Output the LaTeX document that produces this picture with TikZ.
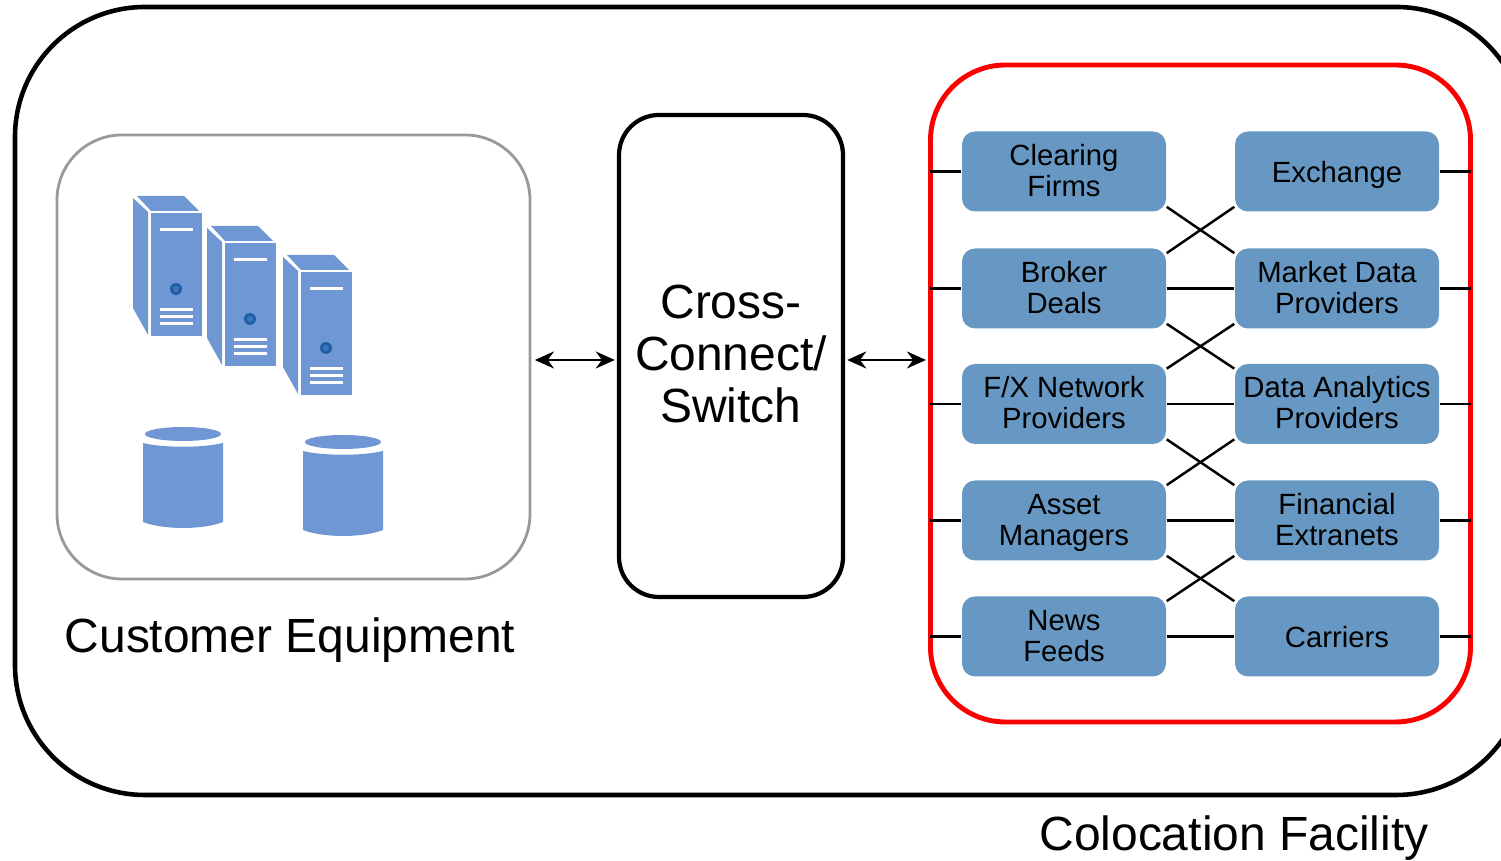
\documentclass[tikz,border=0pt]{standalone}
\usepackage{fontspec}
\setmainfont{Liberation Sans}
\usetikzlibrary{calc, arrows.meta}
\definecolor{unitblue}{HTML}{6F97D3}
\definecolor{nodeblue}{HTML}{6798C3}
\definecolor{discblue}{HTML}{1F5FA8}
\definecolor{redline}{HTML}{FA0000}
\tikzset{
  partybox/.style={rectangle, rounded corners=0.13cm, fill=nodeblue, minimum width=2.04cm, minimum height=0.8cm, inner sep=0pt, align=center, text height=15pt, text depth=1pt, font=\fontsize{8.33}{8.8}\selectfont},
  oneline/.style={text height=7pt},
  bigtext/.style={inner sep=0pt, align=center, font=\fontsize{13.65}{14.8}\selectfont},
  stub/.style={line width=0.7pt, shorten >=0.6pt},
  link/.style={line width=0.7pt},
  duplex/.style={{Stealth[length=1.9mm, width=1.7mm]}-{Stealth[length=1.9mm, width=1.7mm]}, line width=0.7pt},
  serverunit/.pic={
    \fill[unitblue] (0, 0) rectangle (0.51, -1.23);
    \fill[unitblue] (-0.14, 0.17) -- (0.33, 0.17) -- (0.48, 0.02) -- (0, 0.02) -- cycle;
    \fill[unitblue] (-0.18, 0.15) -- (-0.03, 0.01) -- (-0.03, -1.22) -- (-0.18, -0.95) -- cycle;
    \draw[white, line width=0.85pt] (0.09, -0.17) -- (0.42, -0.17);
    \draw[white, line width=0.85pt] (0.09, -0.963) -- (0.42, -0.963);
    \draw[white, line width=0.85pt] (0.09, -1.037) -- (0.42, -1.037);
    \draw[white, line width=0.85pt] (0.09, -1.103) -- (0.42, -1.103);
    \fill[discblue] (0.25, -0.76) circle (0.06);
    \fill[discblue!60!unitblue] (0.25, -0.76) circle (0.03);
  },
  drumunit/.pic={
    \fill[unitblue] (0, 0) ellipse (0.38 and 0.07);
    \fill[unitblue] (-0.40, -0.09) .. controls (-0.2, -0.14) and (0.2, -0.14) .. (0.40, -0.09) -- (0.40, -0.88) .. controls (0.2, -0.96) and (-0.2, -0.96) .. (-0.40, -0.88) -- cycle;
  }
}

\begin{document}
\begin{tikzpicture}
\useasboundingbox (0, 0) rectangle (15.01, 8.61);

\node[draw, rectangle, rounded corners=1.3cm, line width=1.3pt, minimum width=15.11cm, minimum height=7.88cm] (facility) at (7.705, 4.60) {};
\node[draw=black!40, rectangle, rounded corners=0.65cm, line width=0.8pt, minimum width=4.73cm, minimum height=4.44cm] (customer) at (2.935, 5.04) {};
\node[draw, rectangle, rounded corners=0.4cm, line width=1.2pt, minimum width=2.24cm, minimum height=4.82cm] (switch) at (7.31, 5.05) {};
\node[draw=redline, rectangle, rounded corners=0.75cm, line width=1.4pt, minimum width=5.40cm, minimum height=6.57cm] (venues) at (12.005, 4.675) {};

\node[bigtext] (switchlabel) at (7.31, 5.07) {Cross-\\Connect/\\Switch};
\node[bigtext] (customerlabel) at (2.90, 2.21) {Customer Equipment};
\node[bigtext] (facilitylabel) at (12.34, 0.23) {Colocation Facility};

\pic at (1.51, 6.48) {serverunit};
\pic at (2.25, 6.18) {serverunit};
\pic at (3.01, 5.89) {serverunit};
\pic at (1.83, 4.27) {drumunit};
\pic at (3.43, 4.19) {drumunit};

\node[partybox] (clearing) at (10.64, 6.895) {Clearing\\Firms};
\node[partybox] (broker) at (10.64, 5.725) {Broker\\Deals};
\node[partybox] (fx) at (10.64, 4.57) {F/X Network\\Providers};
\node[partybox] (asset) at (10.64, 3.405) {Asset\\Managers};
\node[partybox] (news) at (10.64, 2.245) {News\\Feeds};

\node[partybox, oneline] (exchange) at (13.37, 6.895) {Exchange};
\node[partybox] (market) at (13.37, 5.725) {Market Data\\Providers};
\node[partybox] (analytics) at (13.37, 4.57) {Data Analytics\\Providers};
\node[partybox] (extranets) at (13.37, 3.405) {Financial\\Extranets};
\node[partybox, oneline] (carriers) at (13.37, 2.245) {Carriers};

% links in and out of the switch
\coordinate (linkrow) at (5.75, 5.01);
\draw[duplex, shorten <=1pt, shorten >=0.6pt] (customer.east |- linkrow) -- (switch.west |- linkrow);
\draw[duplex, shorten <=0.6pt, shorten >=0.6pt] (switch.east |- linkrow) -- (venues.west |- linkrow);

% stubs to the red ring
\draw[stub] (clearing.west) -- (clearing.west -| venues.west);
\draw[stub] (broker.west) -- (broker.west -| venues.west);
\draw[stub] (fx.west) -- (fx.west -| venues.west);
\draw[stub] (asset.west) -- (asset.west -| venues.west);
\draw[stub] (news.west) -- (news.west -| venues.west);
\draw[stub] (exchange.east) -- (exchange.east -| venues.east);
\draw[stub] (market.east) -- (market.east -| venues.east);
\draw[stub] (analytics.east) -- (analytics.east -| venues.east);
\draw[stub] (extranets.east) -- (extranets.east -| venues.east);
\draw[stub] (carriers.east) -- (carriers.east -| venues.east);

% straight across
\draw[link] (broker.east) -- (market.west);
\draw[link] (fx.east) -- (analytics.west);
\draw[link] (asset.east) -- (extranets.west);
\draw[link] (news.east) -- (carriers.west);

% crossings
\draw[link] (clearing.-19) -- (market.161);
\draw[link] (broker.19) -- (exchange.-161);
\draw[link] (broker.-19) -- (analytics.161);
\draw[link] (fx.19) -- (market.-161);
\draw[link] (fx.-19) -- (extranets.161);
\draw[link] (asset.19) -- (analytics.-161);
\draw[link] (asset.-19) -- (carriers.161);
\draw[link] (news.19) -- (extranets.-161);
\end{tikzpicture}
\end{document}
